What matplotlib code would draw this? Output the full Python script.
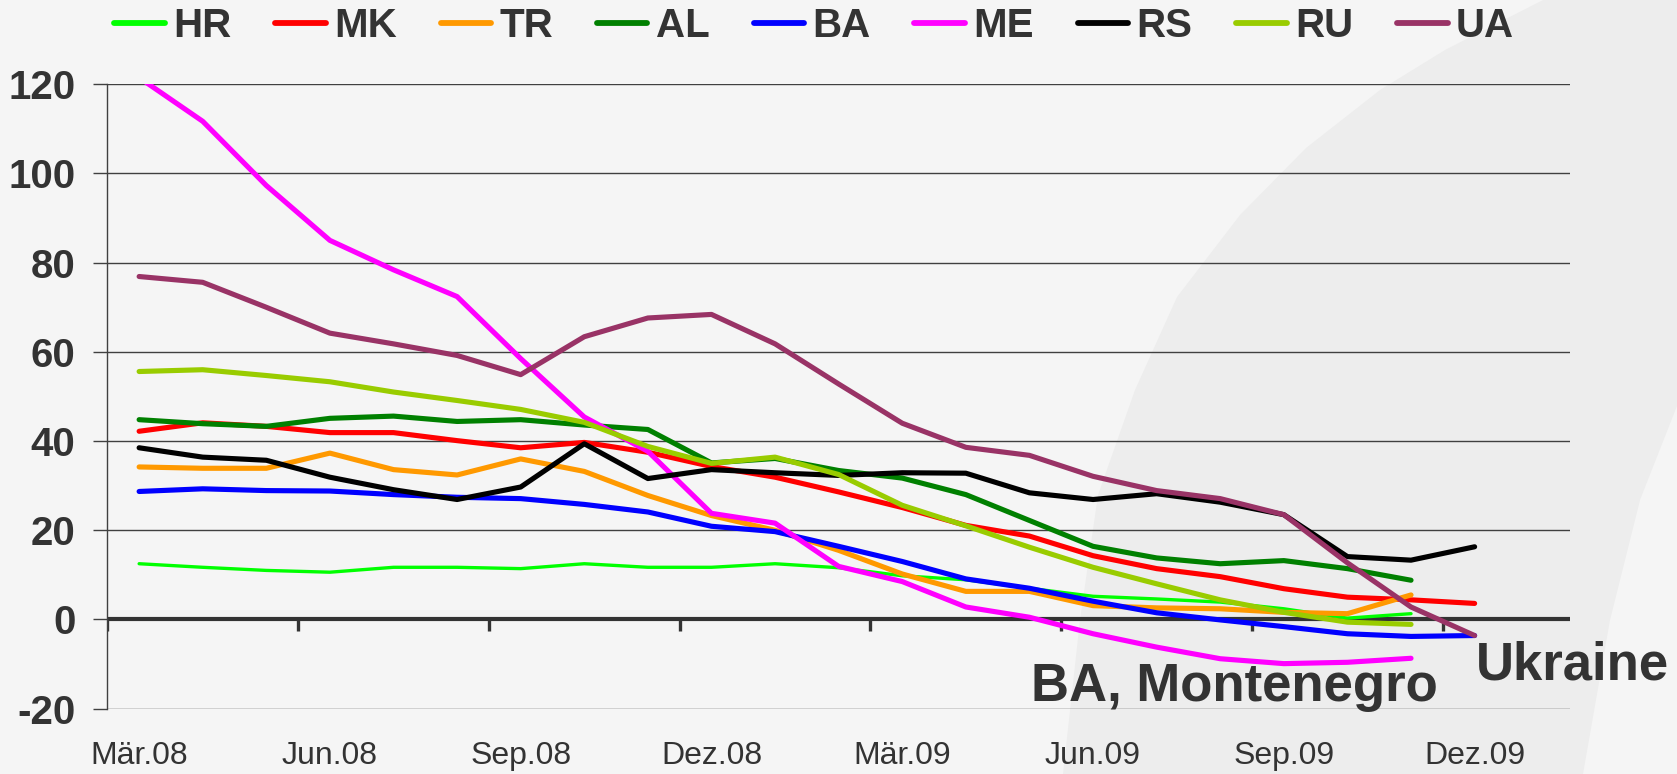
import numpy as np
import matplotlib.pyplot as plt
from matplotlib.patches import Polygon

plt.rcParams['font.family'] = ['Liberation Sans', 'DejaVu Sans']
plt.rcParams['axes.unicode_minus'] = False

nan = np.nan

# monthly categories Mar 2008 .. Jan 2010 (last one stays empty)
months = ["Mär.08", "Apr.08", "Mai.08", "Jun.08", "Jul.08", "Aug.08", "Sep.08", "Okt.08",
          "Nov.08", "Dez.08", "Jan.09", "Feb.09", "Mär.09", "Apr.09", "Mai.09", "Jun.09",
          "Jul.09", "Aug.09", "Sep.09", "Okt.09", "Nov.09", "Dez.09", "Jan.10"]

HR = [12.5, 11.7, 11.0, 10.6, 11.7, 11.7, 11.4, 12.5, 11.7, 11.7, 12.5, 11.6,
      9.8, 8.9, 7.0, 5.2, 4.6, 3.9, 2.4, 0.3, 1.3, nan]
MK = [42.2, 44.1, 43.3, 41.9, 41.9, 40.1, 38.5, 39.7, 37.5, 34.3, 31.9, 28.6,
      25.1, 21.1, 18.7, 14.3, 11.4, 9.6, 6.9, 5.0, 4.4, 3.6]
TR = [34.2, 33.9, 33.9, 37.3, 33.6, 32.4, 36.0, 33.2, 27.8, 23.3, 20.0, 15.5,
      10.2, 6.3, 6.3, 3.1, 2.6, 2.4, 1.6, 1.3, 5.5, nan]
AL = [44.8, 43.9, 43.3, 45.1, 45.6, 44.4, 44.8, 43.6, 42.6, 35.1, 36.1, 33.4,
      31.7, 28.0, 22.2, 16.4, 13.8, 12.5, 13.2, 11.4, 8.8, nan]
BA = [28.7, 29.3, 28.9, 28.8, 28.0, 27.4, 27.1, 25.8, 24.1, 20.9, 19.7, 16.4,
      13.0, 9.1, 7.0, 4.1, 1.5, -0.1, -1.6, -3.2, -3.8, -3.6]
ME = [121.5, 111.7, 97.3, 85.0, 78.4, 72.4, 58.5, 45.4, 37.7, 23.8, 21.6, 11.9,
      8.5, 2.8, 0.5, -3.2, -6.2, -8.8, -9.9, -9.6, -8.7, nan]
RS = [38.5, 36.4, 35.7, 31.9, 29.1, 26.9, 29.7, 39.4, 31.6, 33.6, 32.9, 32.3,
      32.9, 32.8, 28.4, 26.9, 28.2, 26.3, 23.5, 14.1, 13.3, 16.3]
RU = [55.6, 56.0, 54.7, 53.3, 51.0, 49.1, 47.1, 44.2, 38.8, 35.0, 36.4, 32.5,
      25.6, 21.0, 16.2, 11.7, 8.0, 4.4, 1.6, -0.6, -1.1, nan]
UA = [76.9, 75.6, 70.0, 64.2, 61.8, 59.2, 54.9, 63.4, 67.6, 68.4, 61.8, 52.8,
      44.0, 38.6, 36.8, 32.1, 28.9, 27.1, 23.5, 12.7, 2.8, -3.6]

series = [("HR", HR, "#00FF00", 2.4), ("MK", MK, "#FF0000", 3.7),
          ("TR", TR, "#FF9900", 3.7), ("AL", AL, "#008000", 3.7),
          ("BA", BA, "#0000FF", 3.7), ("ME", ME, "#FF00FF", 3.7),
          ("RS", RS, "#000000", 3.7), ("RU", RU, "#99CC00", 3.7),
          ("UA", UA, "#993366", 3.7)]

txt = "#333333"
grid = "#404040"

fig = plt.figure(figsize=(16.77, 7.74), dpi=100, facecolor="#F5F5F5")

# faint background swoosh, drawn in a full-figure axes behind the chart
bg = fig.add_axes([0, 0, 1, 1], zorder=-1)
bg.set_xlim(0, 1677)
bg.set_ylim(774, 0)
bg.axis("off")
swoosh = [(1063, 774), (1080, 620), (1098, 495), (1135, 390), (1177, 297), (1240, 215),
          (1306, 148), (1380, 90), (1445, 50), (1543, 0), (1677, 0), (1677, 406),
          (1640, 500), (1610, 620), (1583, 774)]
bg.add_patch(Polygon(swoosh, closed=True, facecolor="#EDEDED", edgecolor="none"))

ax = fig.add_axes([0.064, 0.0844, 0.8722, 0.8067])
ax.set_facecolor("none")

x = np.arange(len(months))
for name, vals, col, lw in series:
    ax.plot(x[:len(vals)], vals, color=col, lw=lw, label=name,
            solid_capstyle="round", solid_joinstyle="round", zorder=3)

ax.set_xlim(-0.5, len(months) - 0.5)
ax.set_ylim(-20, 120)

ax.set_yticks(np.arange(-20, 121, 20))
ax.yaxis.grid(True, color=grid, lw=1.0)
ax.set_axisbelow(True)
ax.tick_params(axis="y", length=10, width=1.0, color=grid, pad=13,
               labelsize=29, labelcolor=txt)
for lab in ax.get_yticklabels():
    lab.set_fontweight("bold")

ax.set_xticks(x[::3])
ax.set_xticklabels(months[::3])
ax.tick_params(axis="x", length=0, pad=23, labelsize=23, labelcolor=txt)

for s in ["top", "right", "bottom"]:
    ax.spines[s].set_visible(False)
ax.spines["left"].set_color(grid)
ax.spines["left"].set_linewidth(1.0)

# category axis at zero with tick marks between quarters
ax.axhline(0, color="#333333", lw=3.0, zorder=2)
ax.vlines(np.arange(-0.5, len(months) - 1, 3), -2.5, 0, color="#333333", lw=2.4, zorder=2)

ax.text(14.03, -18.3, "BA, Montenegro", fontsize=38, fontweight="bold", color=txt,
        ha="left", va="baseline", zorder=4)
ax.text(21.02, -13.5, "Ukraine", fontsize=38, fontweight="bold", color=txt,
        ha="left", va="baseline", zorder=4, clip_on=False)

leg = fig.legend(loc="center", bbox_to_anchor=(0.4855, 1 - 26 / 774), ncol=9, frameon=False,
                 fontsize=29, handlelength=1.25, handletextpad=0.21, columnspacing=1.09)
for t in leg.get_texts():
    t.set_fontweight("bold")
    t.set_color(txt)
for h in leg.get_lines():
    h.set_linewidth(4.2)

fig.savefig("out.png", dpi=100, facecolor=fig.get_facecolor())
